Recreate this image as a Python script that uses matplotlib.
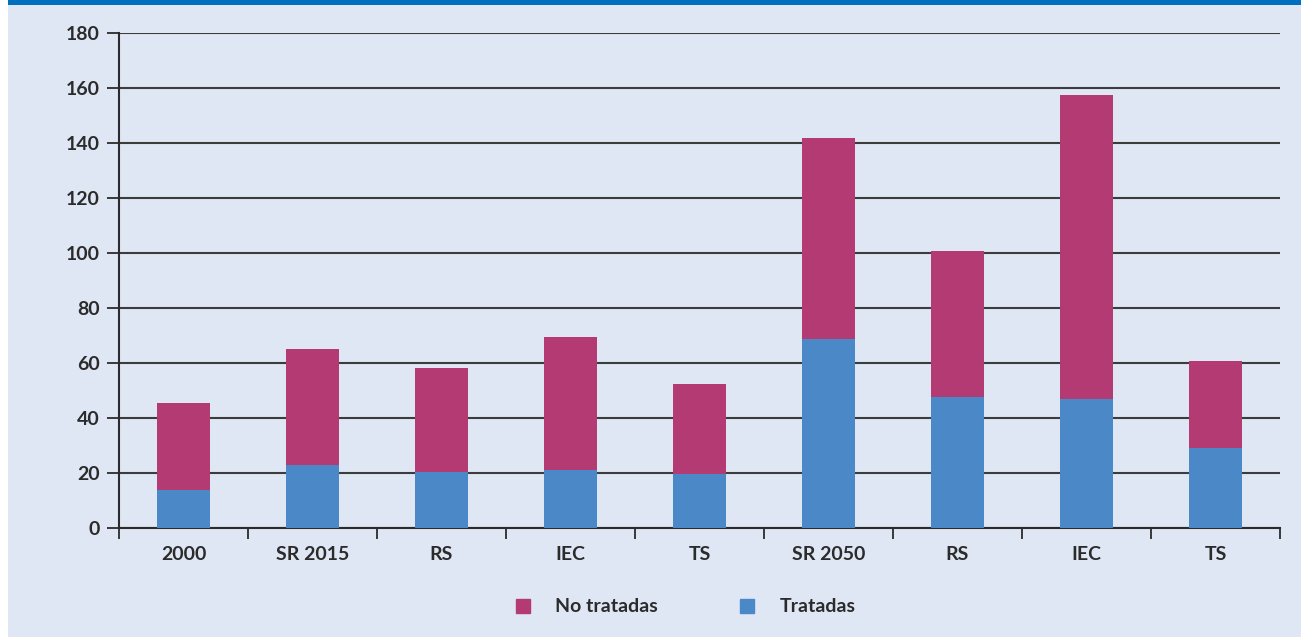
import matplotlib.pyplot as plt
import matplotlib.patches as mpatches
import numpy as np

# Categories and stacked values
categories = ['2000', 'SR 2015', 'RS', 'IEC', 'TS', 'SR 2050', 'RS', 'IEC', 'TS']
tratadas = [14, 23, 20.5, 21, 19.5, 68.8, 47.6, 47, 29.2]
no_tratadas = [31.5, 42.2, 37.8, 48.5, 33, 73.2, 53, 110.5, 31.6]
yticks = [0, 20, 40, 60, 80, 100, 120, 140, 160, 180]

c_trat = '#4A88C7'
c_notrat = '#B43A73'
bg = '#E0E7F4'
dark = '#2b2b2b'

plt.rcParams['font.family'] = ['Lato', 'DejaVu Sans']

fig = plt.figure(figsize=(13.01, 6.37), dpi=100)
fig.patch.set_facecolor('white')
# panel background and top band
fig.patches.append(mpatches.Rectangle((8 / 1301, 0), 1, 1, transform=fig.transFigure,
                                      facecolor=bg, edgecolor='none', zorder=-2))
fig.patches.append(mpatches.Rectangle((8 / 1301, 1 - 5 / 637), 1, 5 / 637,
                                      transform=fig.transFigure,
                                      facecolor='#0070BE', edgecolor='none', zorder=-1))

ax = fig.add_axes([119 / 1301, 1 - 528 / 637, (1280 - 119) / 1301, (528 - 33) / 637])
ax.set_facecolor('none')

x = np.arange(len(categories))
w = 0.41
ax.bar(x, tratadas, w, color=c_trat, zorder=3, label='Tratadas')
ax.bar(x, no_tratadas, w, bottom=tratadas, color=c_notrat, zorder=3, label='No tratadas')

ax.set_xlim(-0.5, len(categories) - 0.5)
ax.set_ylim(0, 180)
ax.set_yticks(yticks)
ax.set_yticklabels([str(v) for v in yticks], fontsize=14, fontweight='bold', color=dark)
ax.tick_params(axis='y', length=9, width=1.3, color=dark, pad=5)
ax.yaxis.grid(True, color='#3c3c3c', linewidth=1.5, zorder=1)
ax.set_axisbelow(True)

ax.set_xticks(x)
ax.set_xticklabels(categories, fontsize=14, fontweight='bold', color=dark)
ax.tick_params(axis='x', which='major', length=0, pad=13)
ax.set_xticks(np.arange(-0.5, len(categories)), minor=True)
ax.tick_params(axis='x', which='minor', length=8, width=1.3, color=dark, direction='out')

for s in ['top', 'right']:
    ax.spines[s].set_visible(False)
for s in ['left', 'bottom']:
    ax.spines[s].set_color(dark)
    ax.spines[s].set_linewidth(1.5)

handles = [mpatches.Patch(color=c_notrat, label='No tratadas'),
           mpatches.Patch(color=c_trat, label='Tratadas')]
leg = fig.legend(handles=handles, loc='center', bbox_to_anchor=(0.527, 1 - 607 / 637),
                 ncol=2, frameon=False, handlelength=0.75, handleheight=0.75,
                 handletextpad=1.3, columnspacing=4.2,
                 prop={'size': 14, 'weight': 'bold'})
for t in leg.get_texts():
    t.set_color(dark)

fig.savefig('out.png', dpi=100, facecolor=fig.get_facecolor())
